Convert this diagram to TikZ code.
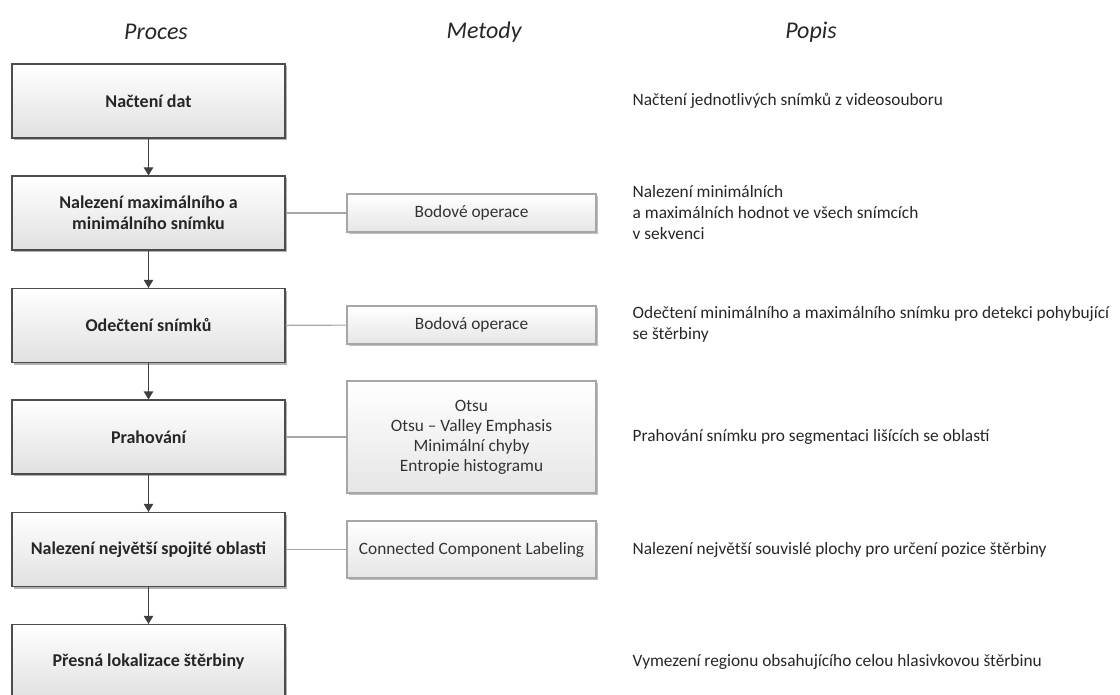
\documentclass[tikz,border=0pt]{standalone}
\usepackage{fontspec}
\setmainfont{Carlito}
\usetikzlibrary{arrows.meta,shadows}

\tikzset{
  proces/.style={draw=black!70,line width=0.8pt,top color=white,bottom color=black!12,
    drop shadow={shadow xshift=1.5pt,shadow yshift=-1.5pt,fill=black!30,opacity=1},
    minimum width=204.75pt,minimum height=55.5pt,align=center,
    font=\fontsize{13.5}{15.75}\selectfont\bfseries,text=black!85},
  metoda/.style={draw=black!35,line width=0.8pt,top color=white,bottom color=black!10,
    drop shadow={shadow xshift=1.5pt,shadow yshift=-1.5pt,fill=black!25,opacity=1},
    minimum width=186.75pt,minimum height=28.5pt,align=center,text=black!80},
  popis/.style={anchor=west,align=left,text=black!85},
  hlava/.style={font=\fontsize{18}{20}\selectfont\itshape,text=black!85},
  sipka/.style={draw=black!75,line width=0.8pt,-{Triangle[width=7pt,length=6pt]}},
  spoj/.style={draw=black!35,line width=0.8pt}
}

\begin{document}
\begin{tikzpicture}[x=0.75pt,y=-0.75pt,font=\fontsize{13}{15.75}\selectfont]
      \useasboundingbox (0,0) rectangle (1120,695);
      % hlavicka
      \node[hlava] (hproces) at (156,32) {Proces};
      \node[hlava] (hmetody) at (484,32) {Metody};
      \node[hlava] (hpopis) at (811,32) {Popis};
      % proces
      \node[proces] (nacteni) at (148.5,101) {Načtení dat};
      \node[proces] (nalezeni) at (148.5,213) {Nalezení maximálního a\\minimálního snímku};
      \node[proces] (odecteni) at (148.5,325.5) {Odečtení snímků};
      \node[proces] (prahovani) at (148.5,437) {Prahování};
      \node[proces] (oblast) at (148.5,549.5) {Nalezení největší spojité oblasti};
      \node[proces] (lokalizace) at (148.5,661.5) {Přesná lokalizace štěrbiny};
      % metody
      \node[metoda] (bodove) at (471.5,213) {Bodové operace};
      \node[metoda] (bodova) at (471.5,325) {Bodová operace};
      \node[metoda,minimum height=84pt,font=\fontsize{13}{15}\selectfont] (prahy) at (471.5,437) {Otsu\\Otsu -- Valley Emphasis\\Minimální chyby\\Entropie histogramu};
      \node[metoda,minimum height=42.75pt] (ccl) at (471.5,549.5) {Connected Component Labeling};
      % popis
      \node[popis] (p1) at (628,101) {Načtení jednotlivých snímků z videosouboru};
      \node[popis] (p2) at (628,213) {Nalezení minimálních\\a maximálních hodnot ve všech snímcích\\v sekvenci};
      \node[popis] (p3) at (628,324.5) {Odečtení minimálního a maximálního snímku pro detekci pohybující\\se štěrbiny};
      \node[popis] (p4) at (628,437) {Prahování snímku pro segmentaci lišících se oblastí};
      \node[popis] (p5) at (628,549.5) {Nalezení největší souvislé plochy pro určení pozice štěrbiny};
      \node[popis] (p6) at (628,661.5) {Vymezení regionu obsahujícího celou hlasivkovou štěrbinu};
      % sipky
      \draw[sipka] (nacteni) -- (nalezeni);
      \draw[sipka] (nalezeni) -- (odecteni);
      \draw[sipka] (odecteni) -- (prahovani);
      \draw[sipka] (prahovani) -- (oblast);
      \draw[sipka] (oblast) -- (lokalizace);
      % spoje
      \draw[spoj] (nalezeni) -- (bodove);
      \draw[spoj] (odecteni) -- (bodova);
      \draw[spoj] (prahovani) -- (prahy);
      \draw[spoj] (oblast) -- (ccl);
\end{tikzpicture}
\end{document}
